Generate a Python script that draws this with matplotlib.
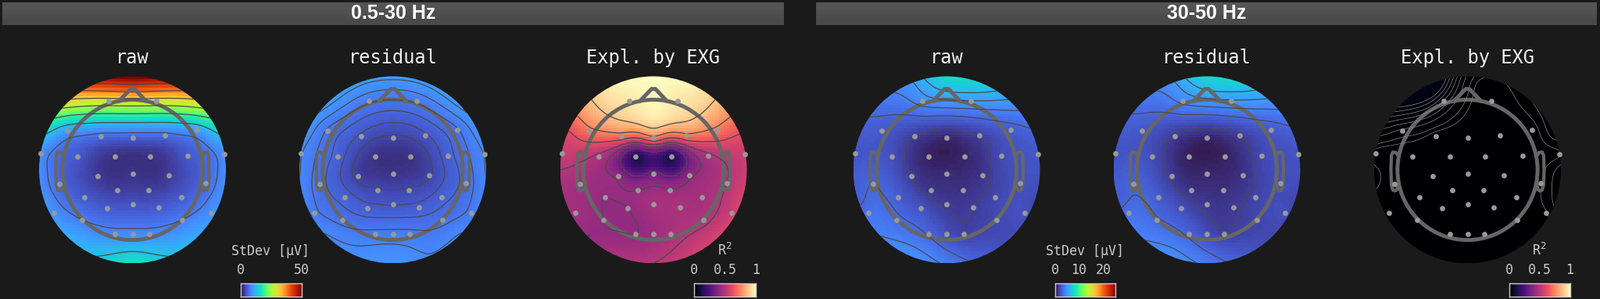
import numpy as np
import matplotlib
matplotlib.use("Agg")
import matplotlib.pyplot as plt
from matplotlib.patches import Circle

W, H = 2047, 382
BG = "#1a1a1a"

# ---------- data ----------
elec_x = [-0.258,0.258,-0.697,-0.341,0,0.348,0.689,-0.983,-0.588,-0.189,0.189,0.588,0.983,
          -0.374,0,0.385,-0.784,0.784,-0.167,0.174,-0.515,0.519,-0.276,0,0.283,-0.838,0.838,
          -0.537,0.533,-0.189,0,0.181]
elec_y = [0.739,0.739,0.418,0.363,0.343,0.368,0.424,0.173,0.145,0.142,0.145,0.151,0.167,
          -0.067,-0.042,-0.061,-0.153,-0.139,-0.218,-0.218,-0.296,-0.290,-0.407,-0.368,-0.402,
          -0.463,-0.457,-0.536,-0.536,-0.686,-0.683,-0.686]
# rim sample angles (degrees, clockwise from the top of the disc)
rim_deg = [0,22.5,45,67.5,90,112.5,135,157.5,180,202.5,225,247.5,270,292.5,315,337.5]

raw1_elec = [29,29,10,6.5,5.5,6.5,10,9,5,2.2,2.2,5,9,2.8,2.4,2.8,6,6,3,3,5,5,5,4.5,5,9,9,7.5,7.5,8.5,8.5,8.5]
raw1_rim  = [50,43,28,13,9,9.5,11,13,16,13,11,9.5,9,13,28,43]
res1_elec = [7.5,7.5,7,4.6,3.4,4.6,7,8.5,5.5,2.3,2.3,5.5,8.5,3.2,2.4,3.4,6.5,6.5,3.8,3.8,5.5,5.5,5.2,4.7,5.2,7.5,7.5,6.8,6.8,7.6,7.6,7.6]
res1_rim  = [10,10,10,9,8.5,8,8.5,8.5,9.5,9,8.5,8,8.5,9,10,10]
exp1_elec = [.95,.95,.72,.70,.72,.72,.72,.55,.48,.13,.13,.48,.55,.40,.33,.40,.45,.50,.42,.43,.42,.46,.42,.46,.47,.45,.55,.42,.48,.42,.44,.47]
exp1_rim  = [1.0,.98,.85,.62,.55,.58,.58,.55,.50,.47,.42,.45,.50,.60,.85,.98]
raw2_elec = [4.5,5,2.5,1.5,.8,1.6,2.6,2.4,2.1,.6,.7,2.0,2.4,1.4,.9,1.2,3,2.2,1.2,1.1,2.6,1.8,2.2,1.4,1.5,3.5,2.2,3.2,1.9,2.9,2.1,1.7]
raw2_rim  = [7.5,7,4.6,2.8,2.3,2,2,2.6,3.8,4.5,4,3,2.6,2.6,3.5,4.8]
res2_elec = [4.3,4.9,2.4,1.4,.7,1.5,2.5,2.3,2.0,.5,.6,1.9,2.3,1.3,.8,1.1,2.9,2.1,1.1,1.0,2.5,1.7,2.1,1.3,1.4,3.4,2.1,3.1,1.8,2.8,2,1.6]
res2_rim  = [7.4,6.9,4.5,2.7,2.2,1.9,1.9,2.5,3.7,4.4,3.9,2.9,2.5,2.5,3.4,4.7]
exp2_elec = [.015,0,.006,0,0,0,0,0,0,0,0,0,.001,0,0,0,0,.001,0,0,0,0,0,0,0,0,.001,0,0,0,0,0]
exp2_rim  = [.006,.001,.003,.004,.004,.003,0,0,0,0,0,0,.002,.008,.03,.04]

panel_titles = ["raw", "residual", "Expl. by EXG"] * 2
band_titles = ["0.5-30 Hz", "30-50 Hz"]
panel_values = [(raw1_elec, raw1_rim), (res1_elec, res1_rim), (exp1_elec, exp1_rim),
                (raw2_elec, raw2_rim), (res2_elec, res2_rim), (exp2_elec, exp2_rim)]
panel_vmax = [50, 50, 1, 25, 25, 1]
panel_cmap = ["turbo", "turbo", "magma"] * 2
panel_levels = [[7.5,13,19,25,31,37,43], [3.6,4.8,6,7.2,8.4,9.6], [.3,.42,.5,.62,.75,.88],
                [1.5,3,4,5,6], [1.5,3,4,5,6], [.0012,.003,.007,.011,.015,.019,.023,.027]]
stdev_label = "StDev [µV]"
r2_label = "R$^{2}$"
cbar_ticks = [([0, 50], ["0", "50"]), ([0, .5, 1], ["0", "0.5", "1"]),
              ([0, 10, 20], ["0", "10", "20"]), ([0, .5, 1], ["0", "0.5", "1"])]

# ---------- interpolation ----------
def tps_fit(x, y, v, reg=1e-4):
    n = len(x)
    d = np.hypot(x[:, None] - x[None], y[:, None] - y[None])
    K = np.where(d > 0, d**2 * np.log(d + 1e-12), 0) + reg * np.eye(n)
    P = np.c_[np.ones(n), x, y]
    A = np.block([[K, P], [P.T, np.zeros((3, 3))]])
    return np.linalg.solve(A, np.r_[v, np.zeros(3)])

def tps_eval(c, x, y, gx, gy):
    d = np.hypot(gx[..., None] - x, gy[..., None] - y)
    U = np.where(d > 0, d**2 * np.log(d + 1e-12), 0)
    return U @ c[:len(x)] + c[-3] + c[-2] * gx + c[-1] * gy

ex, ey = np.array(elec_x), np.array(elec_y)
th = np.deg2rad(rim_deg)
sx = np.r_[ex, np.sin(th)]
sy = np.r_[ey, np.cos(th)]
g = np.linspace(-1, 1, 64)
gx, gy = np.meshgrid(g, g)
g2 = np.linspace(-1, 1, 128)
hx, hy = np.meshgrid(g2, g2)

# ---------- figure ----------
plt.rcParams["font.family"] = "DejaVu Sans Mono"
fig = plt.figure(figsize=(W / 100, H / 100), dpi=100, facecolor=BG)

def px_axes(x0, y0, x1, y1, **kw):
    return fig.add_axes([x0 / W, 1 - y1 / H, (x1 - x0) / W, (y1 - y0) / H], **kw)

for (x0, x1), t in zip([(3, 1003), (1044, 2043)], band_titles):
    a = px_axes(x0, 3, x1, 32)
    a.imshow([[0.33], [0.29]], cmap="gray", vmin=0, vmax=1, aspect="auto", interpolation="bilinear")
    a.set_axis_off()
    a.text(.5, .5, t, transform=a.transAxes, ha="center", va="center", color="white",
           fontsize=18, fontweight="bold", family="Liberation Sans")

R = 119.5
HW = 1.3
centers = [169.5, 502.5, 836, 1211, 1544, 1877.5]
CY = 217
GRAY = "#666666"

nose_x = [-0.145, -0.02, 0.02, 0.145]
nose_y = [0.735, 0.865, 0.865, 0.735]
ear_x = [0.745, 0.765, 0.80, 0.815, 0.82, 0.815, 0.80, 0.775, 0.755, 0.74]
ear_y = [0.155, 0.185, 0.19, 0.155, 0.0, -0.16, -0.215, -0.225, -0.21, -0.15]

for i, (cx, title) in enumerate(zip(centers, panel_titles)):
    ax = px_axes(cx - HW * R, CY - HW * R, cx + HW * R, CY + HW * R)
    ax.set_xlim(-HW, HW); ax.set_ylim(-HW, HW)
    ax.set_axis_off()
    el, rm = panel_values[i]
    v = np.r_[el, rm]
    c = tps_fit(sx, sy, v)
    Z = tps_eval(c, sx, sy, gx, gy)
    Z2 = tps_eval(c, sx, sy, hx, hy)
    vmax = panel_vmax[i]
    clip = Circle((0, 0), 1, transform=ax.transData)
    im = ax.imshow(Z, extent=(-1, 1, -1, 1), origin="lower", cmap=panel_cmap[i], vmin=0, vmax=vmax,
                   interpolation="nearest", aspect="auto")
    im.set_clip_path(clip)
    dark = i != 5
    cs = ax.contour(hx, hy, Z2, levels=panel_levels[i], colors="#4a4a4a" if dark else "#8a8a8a",
                    linewidths=0.9 if dark else 0.5)
    cs.set_clip_path(clip)
    ax.set_xlim(-HW, HW); ax.set_ylim(-HW, HW)
    ax.add_patch(Circle((0, 0), 0.75, fill=False, ec=GRAY, lw=3.6))
    ax.plot(nose_x, nose_y, color=GRAY, lw=3.6, solid_joinstyle="round", solid_capstyle="round")
    for s in (-1, 1):
        ax.plot(s * np.array(ear_x), ear_y, color=GRAY, lw=3.0, solid_joinstyle="round")
    ax.scatter(ex, ey, s=24, c="#999999", linewidths=0, zorder=5)
    ax.set_title(title, y=0.9375, pad=0, color="#f0f0f0", fontsize=17)

# ---------- colour bars ----------
cbars = [(307.5, 385.5, "turbo", 50, 0), (888, 967, "magma", 1, 1),
         (1349.5, 1427, "turbo", 25, 2), (1930.5, 2008.5, "magma", 1, 3)]
grad = np.linspace(0, 1, 256)[None, :]
for x0, x1, cm, vm, k in cbars:
    a = px_axes(x0, 362, x1, 379)
    a.imshow(grad, extent=(0, vm, 0, 1), cmap=cm, aspect="auto", vmin=0, vmax=1)
    for s in a.spines.values():
        s.set_color("#cccccc"); s.set_linewidth(1)
    a.set_yticks([])
    a.xaxis.tick_top()
    tk, tl = cbar_ticks[k]
    a.set_xticks(tk, tl)
    a.tick_params(axis="x", length=0, pad=6, labelsize=12, labelcolor="#cccccc")
    a.xaxis.set_label_position("top")
    a.set_xlabel(stdev_label if cm == "turbo" else r2_label, color="#cccccc", fontsize=12, labelpad=7)

fig.savefig("out.png", dpi=100, facecolor=BG)
